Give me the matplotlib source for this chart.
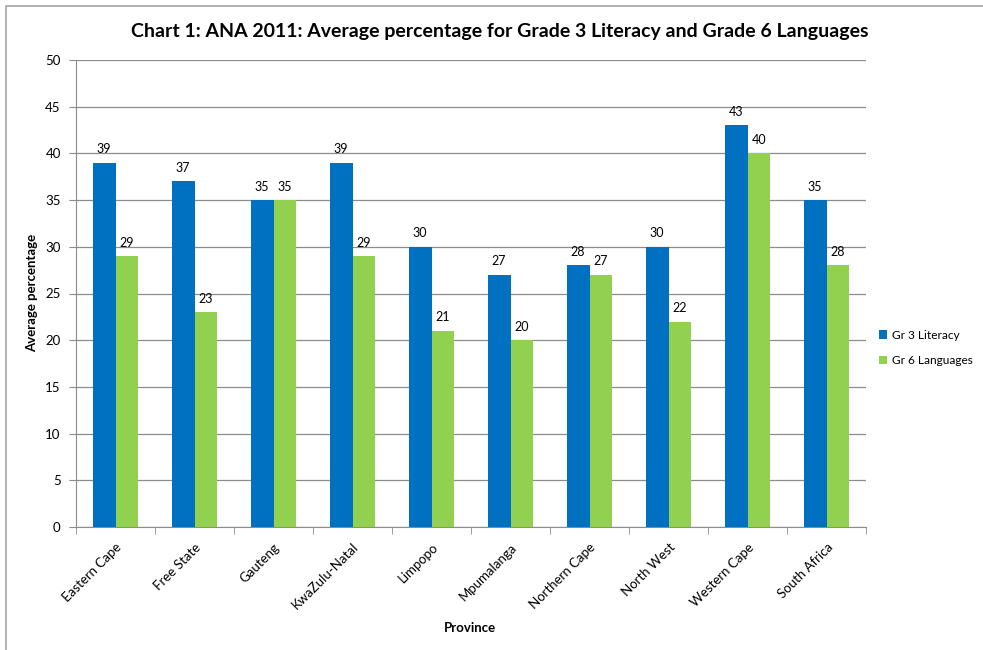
import matplotlib
matplotlib.use("Agg")
import matplotlib.pyplot as plt
import numpy as np
from matplotlib.patches import Rectangle

provinces = ["Eastern Cape", "Free State", "Gauteng", "KwaZulu-Natal", "Limpopo",
             "Mpumalanga", "Northern Cape", "North West", "Western Cape", "South Africa"]
gr3_literacy = [39, 37, 35, 39, 30, 27, 28, 30, 43, 35]
gr6_languages = [29, 23, 35, 29, 21, 20, 27, 22, 40, 28]
series_names = ["Gr 3 Literacy", "Gr 6 Languages"]
yticks = [0, 5, 10, 15, 20, 25, 30, 35, 40, 45, 50]

plt.rcParams['font.family'] = ['Lato', 'DejaVu Sans']

fig = plt.figure(figsize=(9.83, 6.5), dpi=100)
ax = fig.add_axes([76/983, 1-527/650, (866-76)/983, (527-60)/650])

# outer chart frame
fig.patches.append(Rectangle((6/983, -0.05), 1.2, 1-6/650+0.05, transform=fig.transFigure,
                             fill=False, edgecolor="#a6a6a6", linewidth=1.2))

x = np.arange(len(provinces))
w = 0.288
blue = "#0070C0"
green = "#92D050"
b1 = ax.bar(x - w/2, gr3_literacy, w, color=blue, label=series_names[0], zorder=3)
b2 = ax.bar(x + w/2, gr6_languages, w, color=green, label=series_names[1], zorder=3)

for bars, vals in ((b1, gr3_literacy), (b2, gr6_languages)):
    for r, v in zip(bars, vals):
        ax.text(r.get_x() + r.get_width()/2, v + 0.8, f"{v}", ha="center", va="bottom",
                fontsize=9, color="#000000")

ax.set_xlim(-0.5, len(provinces) - 0.5)
ax.set_ylim(0, 50)
ax.set_yticks(yticks)
ax.set_yticklabels([str(t) for t in yticks], fontsize=9.5)
ax.yaxis.grid(True, color="#8c8c8c", linewidth=0.9, zorder=0)
ax.set_axisbelow(True)

ax.set_xticks(x)
ax.set_xticklabels(provinces, rotation=45, ha="right", rotation_mode="anchor", fontsize=9.5)
ax.set_xticks(np.arange(-0.5, len(provinces)), minor=True)
ax.tick_params(axis="x", which="major", length=0, pad=10)
ax.tick_params(axis="x", which="minor", length=5, color="#8c8c8c")
ax.tick_params(axis="y", length=5, color="#8c8c8c", pad=6)

for s in ("top", "right"):
    ax.spines[s].set_visible(False)
for s in ("left", "bottom"):
    ax.spines[s].set_color("#8c8c8c")

fig.text(32/983, 1-293/650, "Average percentage", ha="center", va="center", rotation=90,
         fontsize=9.5, fontweight="bold")
fig.text(470/983, 1-628/650, "Province", ha="center", va="center", fontsize=9.5, fontweight="bold")
fig.text(500/983, 1-31/650, "Chart 1: ANA 2011: Average percentage for Grade 3 Literacy and Grade 6 Languages",
         ha="center", va="center", fontsize=14, fontweight="bold")

fig.legend(handles=[b1, b2], labels=series_names, loc="center left",
           bbox_to_anchor=(879/983, 1-348/650), frameon=False, fontsize=8.6,
           handlelength=0.7, handleheight=0.7, handletextpad=0.4, labelspacing=1.2,
           borderaxespad=0, borderpad=0)

fig.savefig("out.png", dpi=100)
